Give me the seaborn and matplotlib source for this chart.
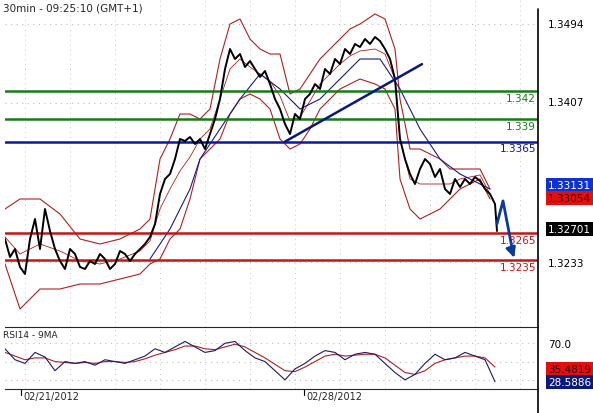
import matplotlib
matplotlib.use("Agg")
import matplotlib.pyplot as plt
import seaborn as sns
import numpy as np
import pandas as pd

sns.set_style("white")
plt.rcParams['font.family'] = ['DejaVu Sans']

def y2p(y):
    return 1.3494 - (np.asarray(y, float) - 25) / 9119.0

# price path (bar index, level)
px = [5,10,15,20,25,30,35,40,45,50,55,60,65,70,75,80,85,90,95,100,105,110,115,120,125,130,135,140,145,150,155,
      160,165,170,175,180,185,190,195,200,205,210,215,220,225,230,235,240,245,250,255,260,265,270,275,280,285,
      290,295,300,305,310,315,320,325,330,335,340,345,350,355,360,365,370,375,380,385,390,395,400,405,410,415,
      420,425,430,435,440,445,450,455,460,465,470,475,480,485,490,495,497]
py = [240,258,250,268,275,240,220,250,210,232,250,262,270,250,255,268,270,262,265,255,260,270,265,252,255,262,255,250,245,238,225,
      195,180,175,160,140,142,138,145,140,150,135,120,100,70,50,60,55,68,62,70,78,72,85,100,110,125,
      135,115,120,100,95,85,90,70,75,60,65,50,55,45,48,40,45,38,42,50,60,80,140,160,175,185,
      170,160,165,178,170,190,195,180,188,180,185,178,182,190,195,205,232]

bx = [5,20,40,60,80,100,120,140,150,160,170,180,190,200,210,220,230,240,250,260,270,280,290,300,310,320,330,340,350,360,375,385,395,400,410,420,430,440,450,460,470,480,490]
up_y = [210,200,200,215,240,245,240,230,220,160,140,115,115,120,110,60,25,20,40,50,55,55,95,90,75,60,50,40,30,25,15,20,50,100,150,150,155,160,170,170,170,170,190]
lo_y = [265,310,290,290,285,285,280,275,265,260,240,230,200,160,150,140,115,100,95,100,110,140,150,145,130,110,100,90,85,80,85,90,110,180,210,220,215,210,200,190,185,180,200]
mid_y = [238,255,245,252,262,265,260,252,242,210,190,172,158,140,130,100,70,60,68,75,82,97,122,118,102,85,75,65,57,52,50,55,80,140,180,185,185,185,185,180,178,176,195]
max_ = [150,170,190,200,220,240,260,280,300,320,340,360,380,400,420,440,460,480,490]
ma_y = [260,230,190,160,130,100,75,90,110,100,80,60,60,90,130,160,175,185,190]

rx = list(range(5, 500, 10))
rsi = [64,52,48,60,55,40,50,48,50,46,52,50,48,52,56,64,60,66,72,66,60,62,70,72,62,54,50,40,30,42,
       48,56,62,60,52,58,60,58,48,38,30,36,48,58,52,54,60,56,52,28]
rsi_ma = [60,56,52,54,54,50,49,48,49,48,50,50,49,50,53,57,60,63,67,67,64,63,66,69,66,60,54,47,40,39,
          44,50,56,58,56,57,58,58,54,46,38,36,40,48,52,54,56,56,54,44]

levels = [1.342, 1.339, 1.3365, 1.3265, 1.3235]
level_cols = ['#1a7a1a', '#1a7a1a', '#0a1a9a', '#c01818', '#c01818']
level_lbls = ['1.342', '1.339', '1.3365', '1.3265', '1.3235']
yticks = [1.3494, 1.3407, 1.3233]
trend_x = [285, 422]; trend_p = [1.3365, 1.3450]
proj_x = [497, 503, 515]; proj_p = [1.3275, 1.3300, 1.3235]

W, H = 593, 414
fig = plt.figure(figsize=(W/100, H/100), dpi=100)
ax = fig.add_axes([5/W, 1-328/H, 533/W, 328/H])
ax2 = fig.add_axes([5/W, 1-390/H, 533/W, 62/H])

for a in (ax, ax2):
    a.set_xlim(5, 538)
    for s in a.spines.values():
        s.set_visible(False)
    a.set_xticks([])
    for vx in range(25, 538, 45):
        a.axvline(vx, color='#c8c8c8', ls=(0, (1, 4)), lw=0.7)

ax.set_ylim(y2p(328), y2p(0))
for t in yticks:
    ax.axhline(t, color='#bbbbbb', ls=(0, (1, 4)), lw=0.8)

sns.lineplot(x=bx, y=y2p(up_y), ax=ax, color='#b02020', lw=0.8)
sns.lineplot(x=bx, y=y2p(lo_y), ax=ax, color='#b02020', lw=0.8)
sns.lineplot(x=bx, y=y2p(mid_y), ax=ax, color='#b02020', lw=0.6)
sns.lineplot(x=max_, y=y2p(ma_y), ax=ax, color='#1a1a8a', lw=0.8)
for lv, c, lb in zip(levels, level_cols, level_lbls):
    ax.axhline(lv, color=c, lw=1.8)
    ax.text(536, lv - 0.0002, lb, color=c, fontsize=7.5, ha='right', va='top')
sns.lineplot(x=px, y=y2p(py), ax=ax, color='black', lw=1.4, sort=False)
sns.lineplot(x=trend_x, y=trend_p, ax=ax, color='#0a1a7a', lw=1.8)
ax.plot(proj_x[:2] + [proj_x[2] - 2], proj_p[:2] + [proj_p[2] + 0.0008], color='#0a3a9a', lw=2)
ax.annotate('', xy=(proj_x[2], proj_p[2]), xytext=(proj_x[2] - 3, proj_p[2] + 0.001),
            arrowprops=dict(arrowstyle='-|>', color='#0a3a9a', lw=2, mutation_scale=14))
ax.text(3, y2p(4), '30min - 09:25:10 (GMT+1)', fontsize=7.5, va='top')

ax2.set_ylim(20, 87.8)
for t in [70, 50, 30]:
    ax2.axhline(t, color='#bbbbbb', ls=(0, (1, 4)), lw=0.8)
sns.lineplot(x=rx, y=rsi_ma, ax=ax2, color='#b02020', lw=0.8)
sns.lineplot(x=rx, y=rsi, ax=ax2, color='#1a1a6a', lw=0.8)
ax2.text(3, 85, 'RSI14 - 9MA', fontsize=6.5, va='top')
for a in (ax, ax2):
    a.set_yticks([])
    a.set_ylabel('')
ax2.spines['top'].set_visible(True)
ax2.spines['bottom'].set_visible(True)

fig.add_artist(plt.Line2D([538/W, 538/W], [0, 1 - 10/H], color='black', lw=1.2, transform=fig.transFigure))
for tx in [21, 304]:
    fig.add_artist(plt.Line2D([tx/W, tx/W], [1 - 390/H, 1 - 396/H], color='black', lw=0.8, transform=fig.transFigure))

def rlab(yp, txt, fc=None, tc='black'):
    kw = dict(fontsize=7.5, ha='left', va='center', color=tc)
    if fc:
        kw['bbox'] = dict(boxstyle='square,pad=0.15', fc=fc, ec='none')
    fig.text(548/W, 1 - yp/H, txt, **kw)

rlab(25, '1.3494'); rlab(103, '1.3407'); rlab(264, '1.3233')
rlab(186, '1.33131', '#1030d0', 'white')
rlab(199, '1.33054', '#e01010', '#400000')
rlab(230, '1.32701', 'black', 'white')
rlab(345, '70.0')
rlab(370, '35.4819', '#e01010', '#400000')
rlab(383, '28.5886', '#0a1a7a', 'white')
fig.text(23/W, 1 - 397/H, '02/21/2012', fontsize=7, ha='left', va='center')
fig.text(306/W, 1 - 397/H, '02/28/2012', fontsize=7, ha='left', va='center')

fig.savefig('out.png', dpi=100)
